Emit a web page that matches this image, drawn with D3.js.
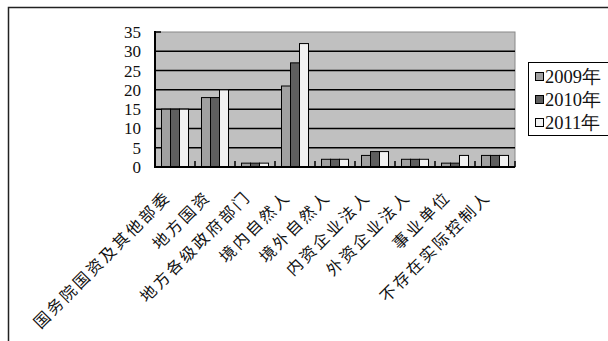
<!DOCTYPE html>
<html><head><meta charset="utf-8">
<script src="https://cdn.jsdelivr.net/npm/d3@7"></script>
<style>body{margin:0;background:#fff;} svg{display:block;}</style>
</head><body>
<svg id="c" width="608" height="341"></svg>
<script>
const categories = ["国务院国资及其他部委","地方国资","地方各级政府部门","境内自然人","境外自然人","内资企业法人","外资企业法人","事业单位","不存在实际控制人"];
const seriesNames = ["2009年","2010年","2011年"];
const values2009 = [15,18,1,21,2,3,2,1,3];
const values2010 = [15,18,1,27,2,4,2,1,3];
const values2011 = [15,20,1,32,2,4,2,3,3];
const yTicks = [0,5,10,15,20,25,30,35];
const colors = ["#a0a0a0","#5e5e5e","#f2f2f2"];
const series = [values2009, values2010, values2011];

const svg = d3.select("#c");
const L = 155, R = 515, T = 32, B = 167;

// outer frame
svg.append("path").attr("d","M8.5,345 V7.5 H615").attr("fill","none").attr("stroke","#222").attr("stroke-width",1.5);

const x = d3.scaleBand().domain(categories).range([L,R]).paddingInner(0).paddingOuter(0);
const y = d3.scaleLinear().domain([0,35]).range([B,T]);
const xs = d3.scaleBand().domain(seriesNames).range([0, 27]);

svg.append("rect").attr("x",L).attr("y",T).attr("width",R-L).attr("height",B-T).attr("fill","#c0c0c0").attr("stroke","#888").attr("stroke-width",1);

// gridlines
svg.append("g").selectAll("line").data(yTicks.filter(d=>d>0 && d<35)).join("line")
  .attr("x1",L).attr("x2",R).attr("y1",d=>y(d)).attr("y2",d=>y(d))
  .attr("stroke","#000").attr("stroke-width",1.5);

// bars
const g = svg.append("g");
series.forEach((vals,si)=>{
  g.selectAll(null).data(categories).join("rect")
    .attr("x",d=>x(d)+(x.bandwidth()-27)/2+xs(seriesNames[si]))
    .attr("y",(d,i)=>y(vals[i]))
    .attr("width",xs.bandwidth())
    .attr("height",(d,i)=>B-y(vals[i]))
    .attr("fill",colors[si]).attr("stroke","#000").attr("stroke-width",1);
});

// x ticks at category boundaries (inside)
svg.append("g").selectAll("line").data(categories.slice(1)).join("line")
  .attr("x1",d=>x(d)).attr("x2",d=>x(d)).attr("y1",B).attr("y2",B-6)
  .attr("stroke","#000").attr("stroke-width",1.5);
svg.append("line").attr("x1",R).attr("x2",R).attr("y1",B).attr("y2",B-6).attr("stroke","#000").attr("stroke-width",1.5);

// axes lines
svg.append("line").attr("x1",L).attr("x2",L).attr("y1",T-1).attr("y2",B+1).attr("stroke","#000").attr("stroke-width",2);
svg.append("line").attr("x1",L-1).attr("x2",R).attr("y1",B).attr("y2",B).attr("stroke","#000").attr("stroke-width",2);
svg.append("line").attr("x1",L).attr("x2",L+6).attr("y1",T).attr("y2",T).attr("stroke","#000").attr("stroke-width",1.5);

// y tick labels
svg.append("g").selectAll("text").data(yTicks).join("text")
  .attr("x",141).attr("y",d=>y(d)).attr("dy","0.35em")
  .attr("text-anchor","end").attr("font-family","Liberation Serif").attr("font-size",17).attr("fill","#111")
  .text(d=>d);

// category labels
svg.append("g").selectAll("text").data(categories).join("text")
  .attr("transform",d=>`translate(${x(d)+x.bandwidth()/2-8},193) rotate(-45)`)
  .attr("text-anchor","end").attr("dominant-baseline","central")
  .attr("font-family","Noto Sans CJK SC").attr("font-size",16).attr("letter-spacing",2.6).attr("fill","#111")
  .text(d=>d);

// legend
const lg = svg.append("g");
lg.append("rect").attr("x",528.5).attr("y",62.5).attr("width",100).attr("height",73).attr("fill","#fff").attr("stroke","#000").attr("stroke-width",1);
const rowsY = [77,100,123];
seriesNames.forEach((s,i)=>{
  lg.append("rect").attr("x",535.5).attr("y",rowsY[i]-4.5).attr("width",8).attr("height",8).attr("fill",colors[i]).attr("stroke","#000").attr("stroke-width",1);
  lg.append("text").attr("x",545).attr("y",rowsY[i]).attr("dy","0.35em").attr("font-family","Liberation Serif").attr("font-size",18.5).attr("fill","#111").text(s);
});
</script>
</body></html>
